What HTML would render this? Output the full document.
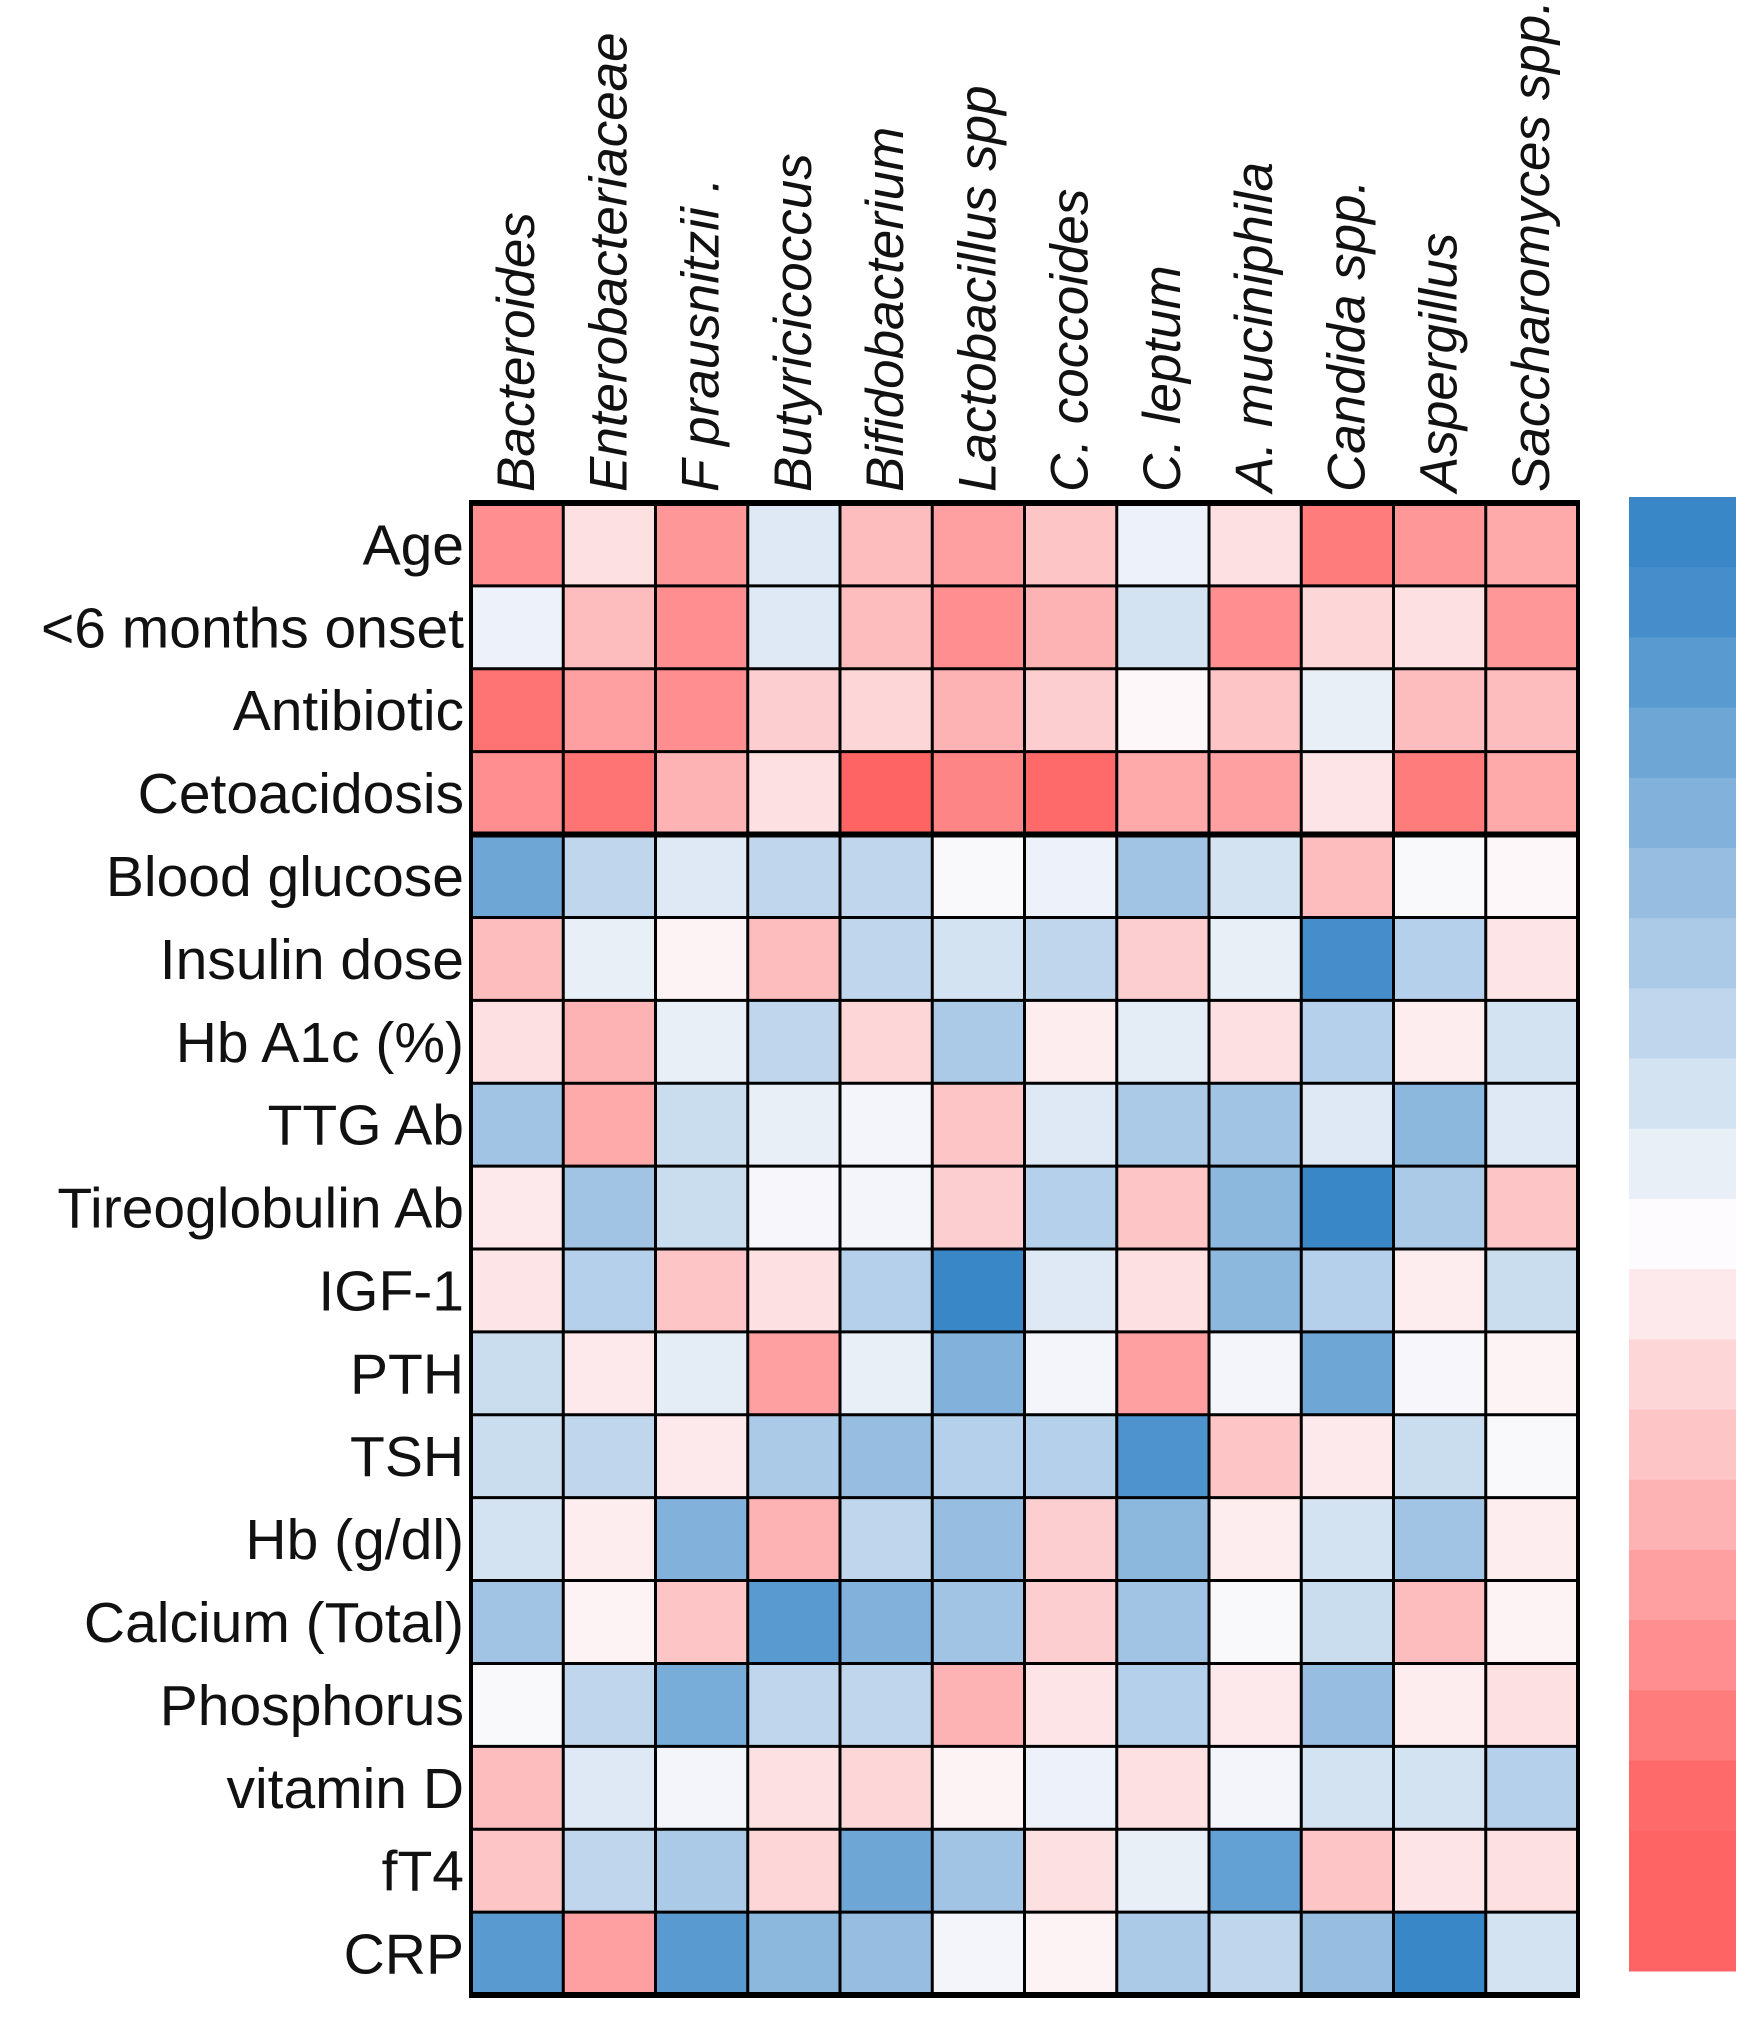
<!DOCTYPE html>
<html><head><meta charset="utf-8"><style>
html,body{margin:0;padding:0;background:#fff;}
svg{display:block;}
text{font-family:"Liberation Sans",sans-serif;fill:#111;}
</style></head><body>
<svg id="chart" width="1756" height="2022" viewBox="0 0 1756 2022">
<g id="cells"></g>
<g id="grid"></g>
<g id="collabels"></g>
<g id="rowlabels"></g>
<g id="cbar"></g>
</svg>
<script>
const columns=["Bacteroides","Enterobacteriaceae","F prausnitzii .","Butyricicoccus","Bifidobacterium","Lactobacillus spp","C. coccoides","C. leptum","A. muciniphila","Candida spp.","Aspergillus","Saccharomyces spp."];
const rows=["Age","<6 months onset","Antibiotic","Cetoacidosis","Blood glucose","Insulin dose","Hb A1c (%)","TTG  Ab","Tireoglobulin  Ab","IGF-1","PTH","TSH","Hb (g/dl)","Calcium (Total)","Phosphorus","vitamin D","fT4","CRP"];
const rAge=[-0.6,-0.15,-0.55,0.15,-0.35,-0.5,-0.3,0.08,-0.15,-0.7,-0.55,-0.45];
const rOnset=[0.08,-0.35,-0.6,0.15,-0.35,-0.6,-0.4,0.2,-0.6,-0.2,-0.15,-0.55];
const rAntib=[-0.75,-0.5,-0.6,-0.25,-0.2,-0.4,-0.25,-0.02,-0.3,0.1,-0.35,-0.35];
const rCeto=[-0.6,-0.75,-0.4,-0.15,-0.85,-0.65,-0.8,-0.45,-0.5,-0.12,-0.7,-0.45];
const rBG=[0.7,0.3,0.15,0.3,0.3,0.02,0.08,0.45,0.2,-0.35,0.02,-0.02];
const rIns=[-0.35,0.1,-0.05,-0.35,0.3,0.2,0.3,-0.25,0.1,0.9,0.35,-0.12];
const rHbA=[-0.15,-0.4,0.1,0.3,-0.2,0.4,-0.08,0.12,-0.15,0.35,-0.08,0.2];
const rTTG=[0.45,-0.45,0.25,0.1,0.05,-0.3,0.15,0.4,0.45,0.15,0.55,0.15];
const rTireo=[-0.1,0.45,0.25,0.03,0.05,-0.25,0.35,-0.3,0.55,0.95,0.4,-0.3];
const rIGF=[-0.12,0.35,-0.3,-0.15,0.35,0.95,0.15,-0.15,0.55,0.35,-0.08,0.25];
const rPTH=[0.25,-0.1,0.12,-0.5,0.1,0.6,0.05,-0.5,0.05,0.7,0.03,-0.05];
const rTSH=[0.25,0.3,-0.1,0.4,0.5,0.35,0.35,0.85,-0.3,-0.1,0.25,0.02];
const rHb=[0.2,-0.08,0.6,-0.4,0.3,0.5,-0.25,0.55,-0.08,0.2,0.45,-0.08];
const rCa=[0.45,-0.05,-0.3,0.8,0.6,0.45,-0.25,0.45,0.02,0.25,-0.35,-0.05];
const rPhos=[0.02,0.3,0.65,0.3,0.3,-0.4,-0.12,0.35,-0.1,0.5,-0.08,-0.15];
const rVitD=[-0.35,0.15,0.05,-0.15,-0.2,-0.05,0.08,-0.15,0.05,0.2,0.2,0.35];
const rFT4=[-0.3,0.3,0.4,-0.2,0.7,0.45,-0.15,0.1,0.75,-0.3,-0.12,-0.15];
const rCRP=[0.8,-0.5,0.8,0.55,0.5,0.05,-0.05,0.4,0.3,0.5,0.95,0.2];
const values=[rAge,rOnset,rAntib,rCeto,rBG,rIns,rHbA,rTTG,rTireo,rIGF,rPTH,rTSH,rHb,rCa,rPhos,rVitD,rFT4,rCRP];

const NS="http://www.w3.org/2000/svg";
const X0=471,X1=1578,Y0=503,Y1=1995;
const cw=(X1-X0)/columns.length, ch=(Y1-Y0)/rows.length;
function xPos(i){return X0+i*cw;}
function yPos(j){return Y0+j*ch;}
function color(v){
  const w=[253,251,253], b=[58,135,200], r=[254,100,100];
  const t=Math.min(1,Math.abs(v)*(v<0?1.2:1.05)); const e=v>=0?b:r;
  return "rgb("+w.map((c,k)=>Math.round(c+(e[k]-c)*t)).join(",")+")";
}
function mk(tag,attrs,parent){const el=document.createElementNS(NS,tag);for(const k in attrs)el.setAttribute(k,attrs[k]);parent.appendChild(el);return el;}
const gc=document.getElementById('cells');
values.forEach((row,j)=>row.forEach((v,i)=>{
  const r=mk('rect',{x:xPos(i),y:yPos(j),width:cw+0.5,height:ch+0.5,fill:color(v)},gc);
  
  
}));
const gg=document.getElementById('grid');
for(let i=0;i<=columns.length;i++){
  const l=mk('line',{x1:xPos(i),x2:xPos(i),y1:Y0,y2:Y1,stroke:'#000','stroke-width':(i==0||i==columns.length)?4:3},gg);
  
  
}
for(let j=0;j<=rows.length;j++){
  const thick=(j==0||j==rows.length||j==4);
  const l=mk('line',{x1:X0-2,x2:X1+2,y1:yPos(j),y2:yPos(j),stroke:'#000','stroke-width':thick?6:3},gg);
  
  
}
const gcl=document.getElementById('collabels');
columns.forEach((c,i)=>{
  const x=xPos(i)+cw/2+17, y=492;
  const t=mk('text',{x:x,y:y,transform:'rotate(-90 '+x+' '+y+')','font-size':53,'font-style':'italic'},gcl);
  t.textContent=c;
  
  
});
const grl=document.getElementById('rowlabels');
rows.forEach((r,j)=>{
  const t=mk('text',{x:464,y:yPos(j)+ch/2+20,'font-size':57,'text-anchor':'end'},grl);
  t.textContent=r;
  
  
});
const gb=document.getElementById('cbar');
const steps=21, bx=1629, bw=107, by=497, bh=1474;
for(let k=0;k<steps;k++){
  const v=1-2*k/(steps-1);
  const r=mk('rect',{x:bx,y:by+k*bh/steps,width:bw,height:bh/steps+0.5,fill:color(v)},gb);
  
  
}
</script>
</body></html>
